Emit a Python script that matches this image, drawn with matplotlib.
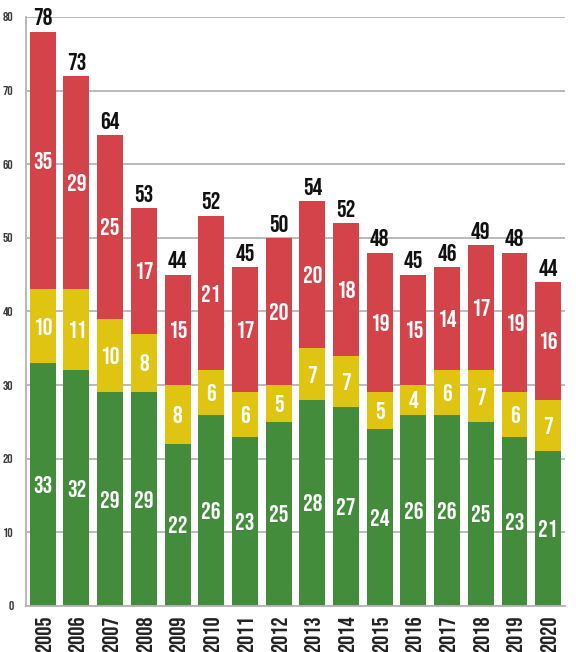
import numpy as np
import matplotlib
matplotlib.use("Agg")
from matplotlib import pyplot as plt

# data
years = [str(y) for y in range(2005, 2021)]
green = [33, 32, 29, 29, 22, 26, 23, 25, 28, 27, 24, 26, 26, 25, 23, 21]
yellow = [10, 11, 10, 8, 8, 6, 6, 5, 7, 7, 5, 4, 6, 7, 6, 7]
red = [35, 29, 25, 17, 15, 21, 17, 20, 20, 18, 19, 15, 14, 17, 19, 16]
totals = [78, 73, 64, 53, 44, 52, 45, 50, 54, 52, 48, 45, 46, 49, 48, 44]
yticks = [0, 10, 20, 30, 40, 50, 60, 70, 80]

c_green = "#438c3c"
c_yellow = "#e0c412"
c_red = "#d44349"
grid_col = "#b4b4b4"

plt.rcParams['font.family'] = ['Bebas Neue', 'DejaVu Sans']

fig = plt.figure(figsize=(5.76, 6.52), dpi=100)
ax = fig.add_axes([0.045, 0.0706, 0.936, 0.9034])

x = np.arange(len(years))
g = np.array(green)
yl = np.array(yellow)
r = np.array(red)
w = 0.77

ax.bar(x, g, width=w, color=c_green, zorder=2)
ax.bar(x, yl, width=w, bottom=g, color=c_yellow, zorder=2)
ax.bar(x, r, width=w, bottom=g + yl, color=c_red, zorder=2)

lab = dict(color="white", fontsize=17.5, ha="center", va="center_baseline", zorder=3)
for i in range(len(years)):
    ax.text(x[i], g[i] / 2, str(green[i]), **lab)
    ax.text(x[i], g[i] + yl[i] / 2, str(yellow[i]), **lab)
    ax.text(x[i], g[i] + yl[i] + r[i] / 2, str(red[i]), **lab)
    ax.annotate(str(totals[i]), (x[i], g[i] + yl[i] + r[i]), xytext=(0, 4.5),
                textcoords="offset points", ha="center", va="baseline",
                fontsize=17.5, color="#111111", annotation_clip=False, zorder=3)

ax.set_xlim(-0.5, len(years) - 0.5)
ax.set_ylim(0, 80)
ax.set_yticks(yticks)
ax.set_yticklabels([str(t) for t in yticks], fontsize=9.5, color="#3a3a3a")
ax.set_xticks(x)
ax.set_xticklabels(years, rotation=90, fontsize=16.5, color="#222222")
ax.tick_params(axis="both", length=0)
ax.tick_params(axis="y", pad=9)
ax.tick_params(axis="x", pad=7)

ax.yaxis.grid(True, color=grid_col, linewidth=1.3, zorder=0)
ax.set_axisbelow(True)
for s in ["top", "right"]:
    ax.spines[s].set_visible(False)
for s in ["left", "bottom"]:
    ax.spines[s].set_color(grid_col)
    ax.spines[s].set_linewidth(1.3)

fig.savefig("out.png", dpi=100)
